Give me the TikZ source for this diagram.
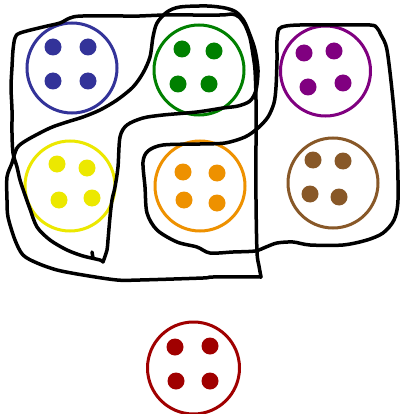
\documentclass[tikz,border=0pt]{standalone}
\definecolor{cblue}{RGB}{51,51,153}
\definecolor{cgreen}{RGB}{0,128,0}
\definecolor{cyellow}{RGB}{236,232,0}
\definecolor{corange}{RGB}{238,145,0}
\definecolor{cpurple}{RGB}{128,0,128}
\definecolor{cbrown}{RGB}{136,88,40}
\definecolor{cred}{RGB}{160,0,0}
\tikzset{
  ring/.style={circle, draw=#1, line width=3pt, minimum size=90pt, inner sep=0pt, fill=white},
  pen/.style={black, line width=3.5pt, line cap=round, line join=round},
}
\begin{document}
\begin{tikzpicture}[x=1pt,y=-1pt]
\useasboundingbox (0,0) rectangle (404,414);
\fill[white] (0,0) rectangle (404,414);
% circles
\node[ring=cblue]   (blue)   at (72,68)  {};
\node[ring=cgreen]  (green)  at (199,70) {};
\node[ring=cyellow] (yellow) at (70,186) {};
\node[ring=corange] (orange) at (200,186) {};
\node[ring=cpurple] (purple) at (325.5,71) {};
\node[ring=cbrown]  (brown)  at (333,183) {};
\node[ring=cred, minimum size=92pt] (red) at (193.5,368) {};
% dots
\foreach \p in {(53,47),(88,47),(53,81),(88,81)} \fill[cblue] \p circle (8.5pt);
\foreach \p in {(182,49),(214,51),(178,84),(209,84)} \fill[cgreen] \p circle (8.5pt);
\foreach \p in {(57,164),(87,168),(59,200),(92,198)} \fill[cyellow] \p circle (8.5pt);
\foreach \p in {(183,172),(217,173),(184,200),(217,203)} \fill[corange] \p circle (8.5pt);
\foreach \p in {(304,53),(334,51),(308,87),(343,83)} \fill[cpurple] \p circle (8.5pt);
\foreach \p in {(313,160),(343,161),(310,194),(339,197)} \fill[cbrown] \p circle (8.5pt);
\foreach \p in {(175,347),(210,346),(176,381),(210,381)} \fill[cred] \p circle (8.5pt);
% hand-drawn loop 1
\draw[pen] plot[smooth, tension=0.5] coordinates {
 (103,262) (107,250) (108,240) (110,217) (112,200) (115,187) (118,167) (120,137)
 (127,125) (143,118) (163,115) (197,112) (223,108) (238,106) (250,101) (256,90)
 (258,70) (255,50) (250,35) (244,21) (236,12) (225,8) (207,6) (180,7) (167,12)
 (157,23) (153,37) (150,57) (143,73) (133,87) (117,100) (100,110) (83,117)
 (67,122) (50,128) (27,140) (17,148) (12,163) (7,177) (7,200) (8,217) (15,240)
 (23,255) (37,263) (57,270) (83,275) (117,280) (140,280) (203,278) (213,277)
 (261,277) };
\draw[pen] plot[smooth, tension=0.5] coordinates {
 (261,277) (259,266) (257,252) (256,200) (256,140) (256,100) (255,70) (253,55)
 (250,38) (245,25) (239,17) (232,14) (220,15) (163,15) (140,16) (83,16) (70,18)
 (60,23) (43,27) (20,33) (15,38) (13,50) (12,67) (11,87) (12,110) (12,133)
 (13,153) (17,167) (20,180) (25,195) (30,209) (37,227) (50,240) (67,250)
 (83,256) (100,260) (103,262) };
\draw[pen] (92,252) -- (93,258);
% hand-drawn loop 2
\draw[pen] plot[smooth cycle, tension=0.5] coordinates {
 (225,143) (245,137) (258,128) (268,117) (274,103) (276,87) (277,60) (277,40)
 (279,29) (286,26) (300,25) (330,25) (370,25) (377,28) (381,35) (387,50)
 (393,100) (397,150) (398,200) (394,220) (383,233) (367,240) (343,245)
 (310,245) (293,242) (277,243) (266,247) (255,251) (233,252) (210,253)
 (197,247) (177,242) (157,230) (147,213) (145,187) (143,162) (148,151)
 (163,145) (200,144) };
\end{tikzpicture}
\end{document}
